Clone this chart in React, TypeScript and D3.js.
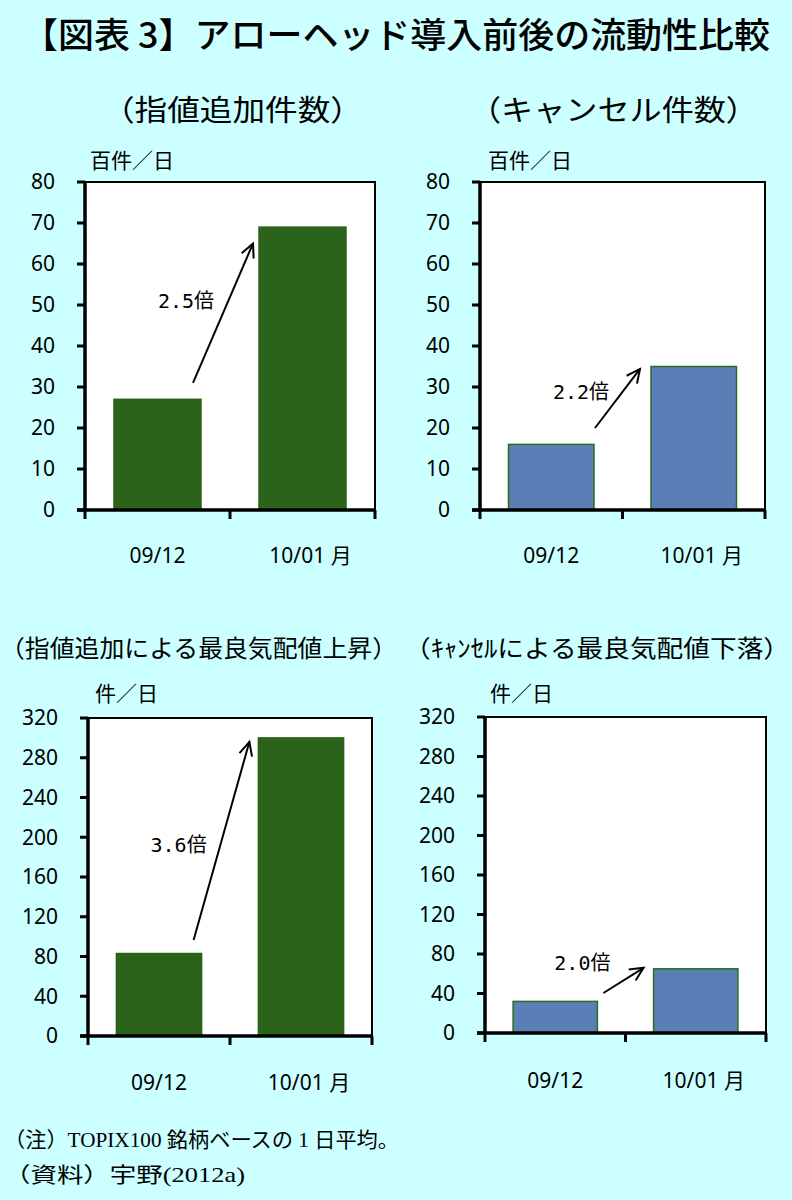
import React from "react";
import * as d3 from "d3";

const categories = ["09/12", "10/01 月"];
const addValues = [27, 69];
const cancelValues = [16, 35];
const upValues = [83, 300];
const downValues = [32, 65];
const topTicks = [0, 10, 20, 30, 40, 50, 60, 70, 80];
const bottomTicks = [0, 40, 80, 120, 160, 200, 240, 280, 320];
const ratioLabels = ["2.5倍", "2.2倍", "3.6倍", "2.0倍"];
const arrowFrom = [31, 20, 96.6, 40.5];
const arrowTo = [65, 34.4, 296, 66];
const labelAt = [51, 28.8, 192, 71];

const BG = "#CCFFFF";
const GREEN = "#2A6319";
const BLUE = "#5A7EB6";
const BLUE_STROKE = "#2F6B1E";
const SANS = "'Noto Sans', 'Noto Sans CJK JP', sans-serif";
const CJK = "'Noto Sans CJK JP', sans-serif";
const MONO = "'DejaVu Sans Mono', 'Noto Sans CJK JP', monospace";
const SERIF = "'Liberation Serif', 'DejaVu Serif', 'Noto Sans CJK JP', serif";

type PanelProps = {
  left: number; right: number; top: number; bottom: number;
  values: number[]; ticks: number[]; fill: string; stroke: string;
  unit: string; unitX: number; unitY: number;
  labelIdx: number; aFromDx: number; aToDx: number; labelDx: number;
  xLabelY: number;
};

function Panel(p: PanelProps) {
  const y = d3.scaleLinear().domain([0, p.ticks[p.ticks.length - 1]]).range([p.bottom, p.top]);
  const x = d3.scaleBand<string>().domain(categories).range([p.left, p.right]).paddingInner(0.4).paddingOuter(0.2);
  const bw = x.bandwidth();
  const boundaries = [p.left, (p.left + p.right) / 2, p.right];
  const i = p.labelIdx;
  const x1 = (x(categories[0]) as number) + bw + p.aFromDx;
  const y1 = y(arrowFrom[i]);
  const x2 = (x(categories[1]) as number) + p.aToDx;
  const y2 = y(arrowTo[i]);
  const ang = Math.atan2(y1 - y2, x1 - x2);
  const hl = 15, ha = 0.45;
  const h1 = [x2 + hl * Math.cos(ang + ha), y2 + hl * Math.sin(ang + ha)];
  const h2 = [x2 + hl * Math.cos(ang - ha), y2 + hl * Math.sin(ang - ha)];
  return (
    <g>
      <rect x={p.left} y={p.top} width={p.right - p.left} height={p.bottom - p.top} fill="#fff" stroke="#000" strokeWidth={2} />
      {p.values.map((v, k) => (
        <rect key={k} x={x(categories[k])} y={y(v)} width={bw} height={p.bottom - y(v)} fill={p.fill} stroke={p.stroke} strokeWidth={1.5} />
      ))}
      <line x1={p.left} x2={p.left} y1={p.top} y2={p.bottom} stroke="#000" strokeWidth={3.5} />
      <line x1={p.left - 8} x2={p.right + 1} y1={p.bottom} y2={p.bottom} stroke="#000" strokeWidth={3.5} />
      {p.ticks.map((t) => (
        <g key={t}>
          <line x1={p.left - 8} x2={p.left} y1={y(t)} y2={y(t)} stroke="#000" strokeWidth={3} />
          <text x={p.left - 30} y={y(t)} dy="0.35em" textAnchor="end" fontFamily={SANS} fontSize={21} fill="#000">{t}</text>
        </g>
      ))}
      {boundaries.map((b, k) => (
        <line key={k} x1={b} x2={b} y1={p.bottom} y2={p.bottom + 9} stroke="#000" strokeWidth={3} />
      ))}
      {categories.map((c) => (
        <text key={c} x={(x(c) as number) + bw / 2 + (c.length > 5 ? 8 : 0)} y={p.xLabelY} textAnchor="middle" fontFamily={SANS} fontSize={21} fill="#000">{c}</text>
      ))}
      <text x={p.unitX} y={p.unitY} fontFamily={CJK} fontSize={21} fill="#000">{p.unit}</text>
      <line x1={x1} y1={y1} x2={x2} y2={y2} stroke="#000" strokeWidth={2} />
      <polyline points={`${h1[0]},${h1[1]} ${x2},${y2} ${h2[0]},${h2[1]}`} fill="none" stroke="#000" strokeWidth={2} />
      <text x={(x(categories[0]) as number) + bw + p.labelDx} y={y(labelAt[i])} dy="0.35em" textAnchor="middle" fontFamily={MONO} fontSize={20} fill="#000">{ratioLabels[i]}</text>
    </g>
  );
}

export default function App() {
  return (
    <svg width={792} height={1200} style={{ position: "absolute", left: 0, top: 0 }}>
      <rect x={0} y={0} width={792} height={1200} fill={BG} />
      <text x={22} y={48} fontFamily={CJK} fontSize={35} fontWeight={500} fill="#000" textLength={748} lengthAdjust="spacingAndGlyphs">【図表 3】アローヘッド導入前後の流動性比較</text>
      <text x={102} y={121} fontFamily={CJK} fontSize={29} fill="#000" textLength={261} lengthAdjust="spacingAndGlyphs">（指値追加件数）</text>
      <text x={469} y={121} fontFamily={CJK} fontSize={29} fill="#000" textLength={289} lengthAdjust="spacingAndGlyphs">（キャンセル件数）</text>
      <text x={0} y={657} fontFamily={CJK} fontSize={24} fill="#000" textLength={397} lengthAdjust="spacingAndGlyphs">（指値追加による最良気配値上昇）</text>
      <text x={404} y={657} fontFamily={CJK} fontSize={24} fill="#000" textLength={386} lengthAdjust="spacingAndGlyphs">（ｷｬﾝｾﾙによる最良気配値下落）</text>

      <Panel left={85} right={375} top={182} bottom={510} values={addValues} ticks={topTicks} fill={GREEN} stroke={GREEN}
        unit="百件／日" unitX={90} unitY={168} labelIdx={0} aFromDx={-8} aToDx={-6} labelDx={-15} xLabelY={563} />
      <Panel left={480} right={765} top={182} bottom={510} values={cancelValues} ticks={topTicks} fill={BLUE} stroke={BLUE_STROKE}
        unit="百件／日" unitX={488} unitY={168} labelIdx={1} aFromDx={1} aToDx={-11} labelDx={-13} xLabelY={563} />
      <Panel left={88} right={372} top={718} bottom={1036} values={upValues} ticks={bottomTicks} fill={GREEN} stroke={GREEN}
        unit="件／日" unitX={95} unitY={701} labelIdx={2} aFromDx={-8} aToDx={-9} labelDx={-23} xLabelY={1090} />
      <Panel left={485} right={766} top={717} bottom={1033} values={downValues} ticks={bottomTicks} fill={BLUE} stroke={BLUE_STROKE}
        unit="件／日" unitX={490} unitY={701} labelIdx={3} aFromDx={6} aToDx={-10} labelDx={-15} xLabelY={1088} />

      <text x={4} y={1147} fontFamily={SERIF} fontSize={21} fill="#000" textLength={395} lengthAdjust="spacingAndGlyphs">（注）TOPIX100 銘柄ベースの 1 日平均。</text>
      <text x={4} y={1182} fontFamily={SERIF} fontSize={21} fill="#000" textLength={241} lengthAdjust="spacingAndGlyphs">（資料）宇野(2012a)</text>
    </svg>
  );
}
